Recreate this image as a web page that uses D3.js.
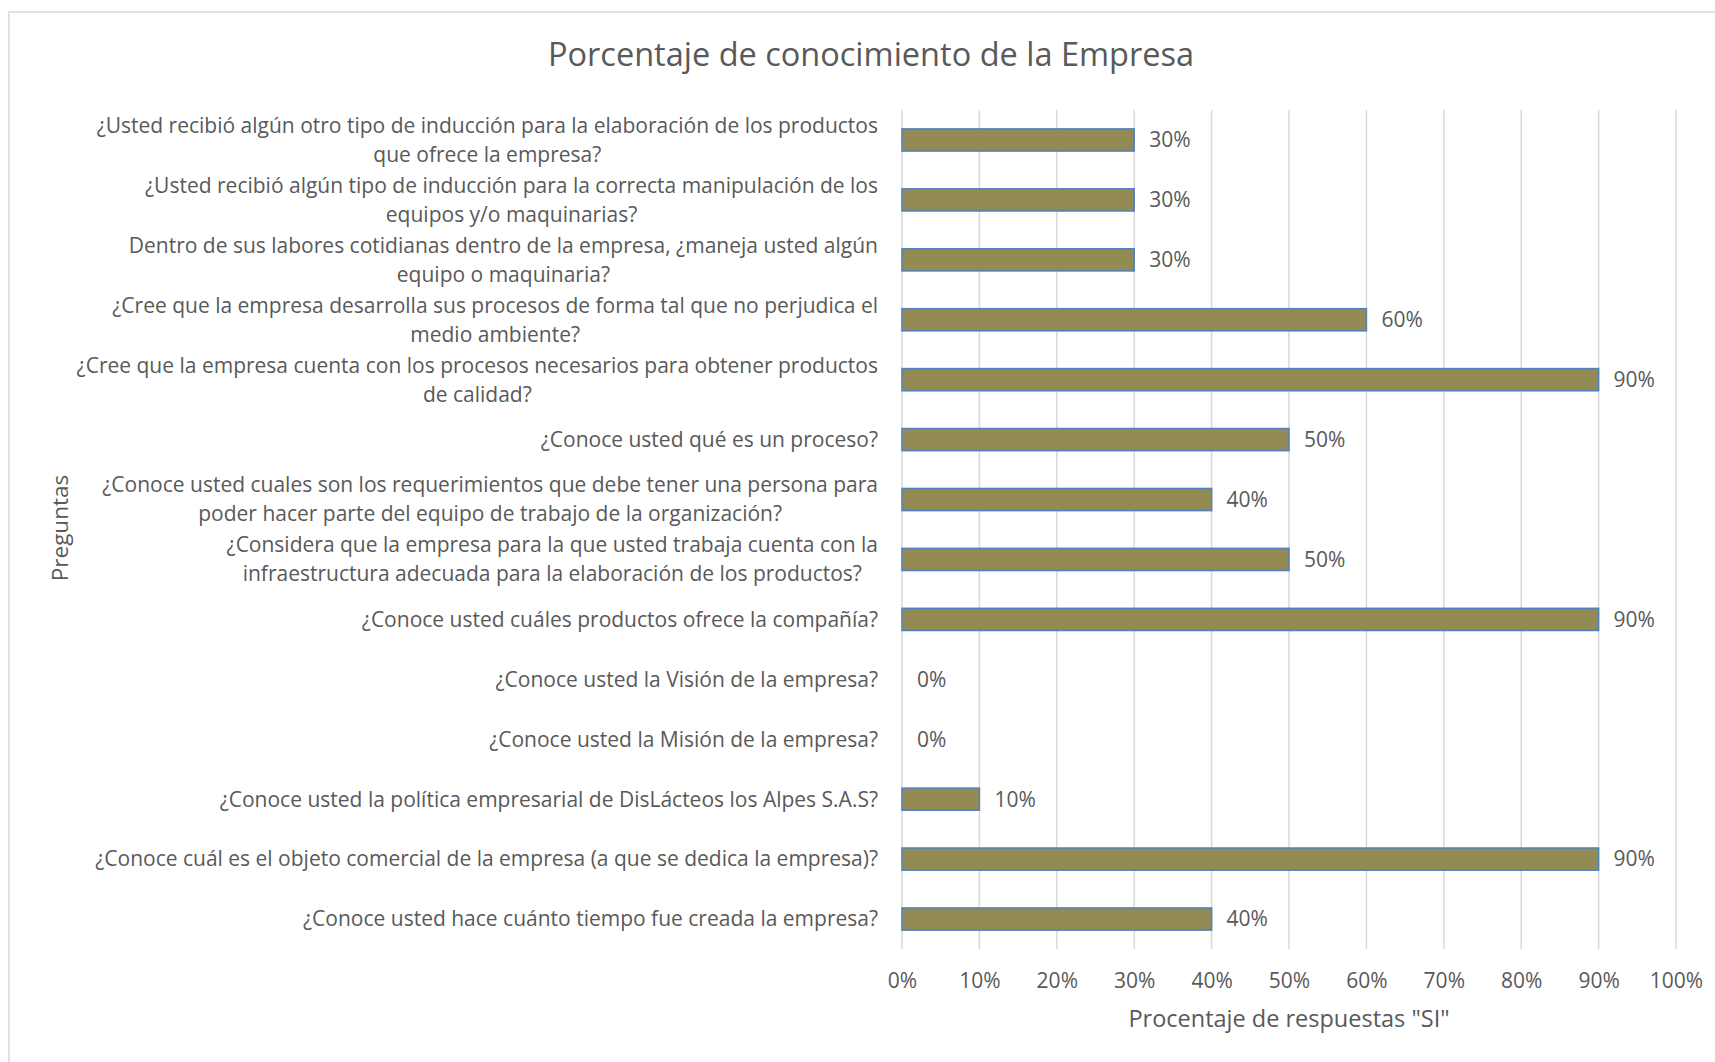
<!DOCTYPE html>
<html>
<head>
<meta charset="utf-8">
<script src="https://cdn.jsdelivr.net/npm/d3@7"></script>
<style>
  body { margin: 0; background: #fff; }
  text { font-family: "Open Sans", "Noto Sans", sans-serif; fill: #595959; }
</style>
</head>
<body>
<script>
// questions, top to bottom, already split in lines like the original
var preguntas = [
  ["¿Usted recibió algún otro tipo de inducción para la elaboración de los productos", "que ofrece la empresa?"],
  ["¿Usted recibió algún tipo de inducción para la correcta manipulación de los", "equipos y/o maquinarias?"],
  ["Dentro de sus labores cotidianas dentro de la empresa, ¿maneja usted algún", "equipo o maquinaria?"],
  ["¿Cree que la empresa desarrolla sus procesos de forma tal que no perjudica el", "medio ambiente?"],
  ["¿Cree que la empresa cuenta con los procesos necesarios para obtener productos", "de calidad?"],
  ["¿Conoce usted qué es un proceso?"],
  ["¿Conoce usted cuales son los requerimientos que debe tener una persona para", "poder hacer parte del equipo de trabajo de la organización?"],
  ["¿Considera que la empresa para la que usted trabaja cuenta con la", "infraestructura adecuada para la elaboración de los productos?"],
  ["¿Conoce usted cuáles productos ofrece la compañía?"],
  ["¿Conoce usted la Visión de la empresa?"],
  ["¿Conoce usted la Misión de la empresa?"],
  ["¿Conoce usted la política empresarial de DisLácteos los Alpes S.A.S?"],
  ["¿Conoce cuál es el objeto comercial de la empresa (a que se dedica la empresa)?"],
  ["¿Conoce usted hace cuánto tiempo fue creada la empresa?"]
];

var porcentajes = [0.3, 0.3, 0.3, 0.6, 0.9, 0.5, 0.4, 0.5, 0.9, 0, 0, 0.1, 0.9, 0.4];

var xTicks = [0, 0.1, 0.2, 0.3, 0.4, 0.5, 0.6, 0.7, 0.8, 0.9, 1];

var titulo = "Porcentaje de conocimiento de la Empresa";
var xTitulo = "Procentaje de respuestas \"SI\"";
var yTitulo = "Preguntas";

var W = 1715, H = 1062;
var margin = { top: 110, right: 39, bottom: 113, left: 902 };
var w = W - margin.left - margin.right;
var h = H - margin.top - margin.bottom;

var svg = d3.select("body").append("svg")
    .attr("width", W)
    .attr("height", H);

// chart frame
svg.append("rect")
  .attr("x", 9).attr("y", 12)
  .attr("width", W + 20).attr("height", H + 20)
  .attr("fill", "none")
  .attr("stroke", "#d9d9d9")
  .attr("stroke-width", 1.5);

svg.append("text")
  .attr("x", 871).attr("y", 66)
  .attr("text-anchor", "middle")
  .attr("font-size", "32.5px")
  .text(titulo);

var g = svg.append("g")
  .attr("transform", "translate(" + margin.left + "," + margin.top + ")");

var x = d3.scaleLinear().domain([0, 1]).range([0, w]);
var y = d3.scaleBand()
  .domain(d3.range(preguntas.length))
  .range([0, h])
  .paddingInner(0.63)
  .paddingOuter(0.315);

// gridlines
g.selectAll("line.grid")
  .data(xTicks)
  .enter().append("line")
  .attr("class", "grid")
  .attr("x1", function(d) { return x(d); })
  .attr("x2", function(d) { return x(d); })
  .attr("y1", 0)
  .attr("y2", h)
  .attr("stroke", "#d9d9d9")
  .attr("stroke-width", 1.5);

// x axis labels
var xAxis = g.append("g")
  .attr("transform", "translate(0," + h + ")")
  .call(d3.axisBottom(x).tickValues(xTicks).tickFormat(d3.format(".0%")).tickSize(0).tickPadding(24));
xAxis.select(".domain").remove();
xAxis.selectAll("text")
  .attr("font-size", "21px")
  .attr("font-family", null)
  .attr("fill", null);
xAxis.attr("font-family", null);

// bars
g.selectAll("rect.bar")
  .data(porcentajes)
  .enter().append("rect")
  .attr("class", "bar")
  .attr("x", x(0))
  .attr("y", function(d, i) { return y(i); })
  .attr("width", function(d) { return x(d) - x(0); })
  .attr("height", y.bandwidth())
  .attr("fill", function(d) { return d > 0 ? "#948a54" : "none"; })
  .attr("stroke", function(d) { return d > 0 ? "#4f81bd" : "none"; })
  .attr("stroke-width", 1.5);

// value labels
g.selectAll("text.value")
  .data(porcentajes)
  .enter().append("text")
  .attr("class", "value")
  .attr("x", function(d) { return x(d) + 15; })
  .attr("y", function(d, i) { return y(i) + y.bandwidth() / 2; })
  .attr("dy", "0.35em")
  .attr("font-size", "21px")
  .text(function(d) { return d3.format(".0%")(d); });

// category labels
var cat = g.selectAll("text.cat")
  .data(preguntas)
  .enter().append("text")
  .attr("class", "cat")
  .attr("text-anchor", "middle")
  .attr("font-size", "21px")
  .attr("y", function(d, i) { return y(i) + y.bandwidth() / 2; });

cat.each(function(lines) {
  var t = d3.select(this);
  var lh = 29;
  lines.forEach(function(line, k) {
    t.append("tspan")
      .attr("x", 0)
      .attr("dy", k === 0 ? (0.35 * 21 - (lines.length - 1) * lh / 2) : lh)
      .text(line);
  });
});

// right-align each block, centre the lines inside it
cat.each(function() {
  var t = d3.select(this);
  var widest = d3.max(t.selectAll("tspan").nodes(), function(n) { return n.getComputedTextLength(); });
  var cx = -24 - widest / 2;
  t.selectAll("tspan").attr("x", cx);
});

svg.append("text")
  .attr("x", margin.left + w / 2)
  .attr("y", 1027)
  .attr("text-anchor", "middle")
  .attr("font-size", "23.5px")
  .text(xTitulo);

svg.append("text")
  .attr("transform", "translate(68,528) rotate(-90)")
  .attr("text-anchor", "middle")
  .attr("font-size", "22.5px")
  .text(yTitulo);
</script>
</body>
</html>
